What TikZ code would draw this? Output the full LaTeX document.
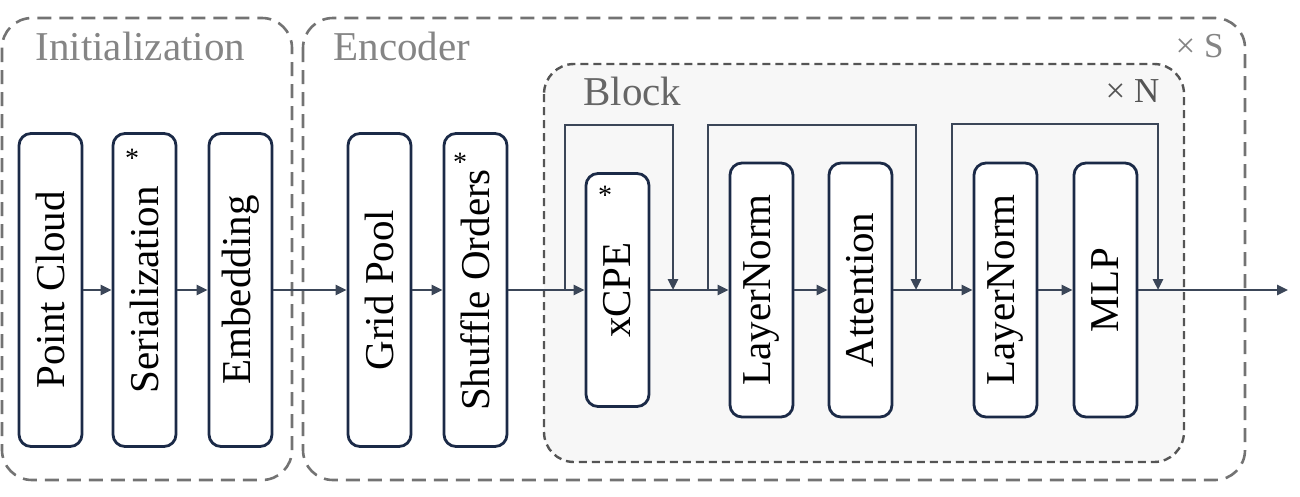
\documentclass[tikz,border=0pt]{standalone}
\usepackage{fontspec}
\setmainfont{Liberation Serif}
\newfontfamily\diagfont{Liberation Serif}
\usetikzlibrary{arrows.meta}
\definecolor{boxblue}{HTML}{1B2A47}
\definecolor{linegray}{HTML}{3B4658}
\definecolor{dashgray}{HTML}{737373}
\definecolor{blockdash}{HTML}{555555}
\definecolor{blockfill}{HTML}{F7F7F7}
\definecolor{labelgray}{HTML}{858585}

\begin{document}
\begin{tikzpicture}[
    x=1pt, y=-1pt,
    layer/.style={draw=boxblue, line width=2.8pt, rounded corners=12pt, fill=white, rotate=90,
        minimum width=313pt, minimum height=63pt, inner sep=0pt, font=\diagfont\fontsize{41}{49}\selectfont},
    short/.style={minimum width=233pt},
    mid/.style={minimum width=254pt},
    arrow/.style={-{Triangle[length=11pt,width=10pt]}, line width=2.6pt, draw=linegray},
    skip/.style={arrow, rounded corners=0pt},
    group/.style={draw=dashgray, line width=2.6pt, dash pattern=on 14pt off 8pt, rounded corners=30pt},
    title/.style={anchor=base west, text=labelgray, font=\diagfont\fontsize{41}{49}\selectfont},
    rep/.style={anchor=base east, text=labelgray, font=\diagfont\fontsize{35}{42}\selectfont},
    star/.style={font=\diagfont\fontsize{28}{32}\selectfont, inner sep=0pt},
]
\useasboundingbox (0,0) rectangle (1300,496);

% Groups
\draw[group] (2,18) rectangle (292,480);
\draw[group] (303,18) rectangle (1245,480);
\draw[group, fill=blockfill, draw=blockdash, line width=2.4pt, dash pattern=on 8pt off 5pt] (544,64) rectangle (1184,462);

\node[title] (init) at (32,60) {Initialization};
\node[title] (enc) at (330,60) {Encoder};
\node[title, text=blockdash!90] (blk) at (580,105) {Block};
\node[rep] (reps) at (1227,57) {× S};
\node[rep, text=blockdash] (repn) at (1163,102) {× N};

% Skip connections
\coordinate (s1in) at (565,290);
\coordinate (s1out) at (673,290);
\coordinate (s2in) at (708,290);
\coordinate (s2out) at (916,290);
\coordinate (s3in) at (952,290);
\coordinate (s3out) at (1158,290);
\coordinate (out) at (1288,290);
\draw[skip] (s1in) -- ++(0,-165) -| (s1out);
\draw[skip] (s2in) -- ++(0,-165) -| (s2out);
\draw[skip] (s3in) -- ++(0,-166) -| (s3out);

% Stages
\node[layer] (pc) at (50.5,290) {Point Cloud};
\node[layer] (ser) at (144.5,290) {Serialization};
\node[layer] (emb) at (240.5,290) {Embedding};
\node[layer] (gp) at (379.5,290) {Grid Pool};
\node[layer] (so) at (475.5,290) {Shuffle Orders};
\node[layer, short] (xcpe) at (617.5,290) {xCPE};
\node[layer, mid] (ln1) at (761.5,290) {LayerNorm};
\node[layer, mid] (att) at (860.5,290) {Attention};
\node[layer, mid] (ln2) at (1005.5,290) {LayerNorm};
\node[layer, mid] (mlp) at (1105.5,290) {MLP};

% Stars
\node[star] (serstar) at (132,158) {*};
\node[star] (sostar) at (460,162) {*};
\node[star] (xcpestar) at (605,195) {*};

% Arrows
\draw[arrow] (pc) -- (ser);
\draw[arrow] (ser) -- (emb);
\draw[arrow] (emb) -- (gp);
\draw[arrow] (gp) -- (so);
\draw[arrow] (so) -- (xcpe);
\draw[arrow] (xcpe) -- (ln1);
\draw[arrow] (ln1) -- (att);
\draw[arrow] (att) -- (ln2);
\draw[arrow] (ln2) -- (mlp);
\draw[arrow] (mlp) -- (out);

\end{tikzpicture}
\end{document}
